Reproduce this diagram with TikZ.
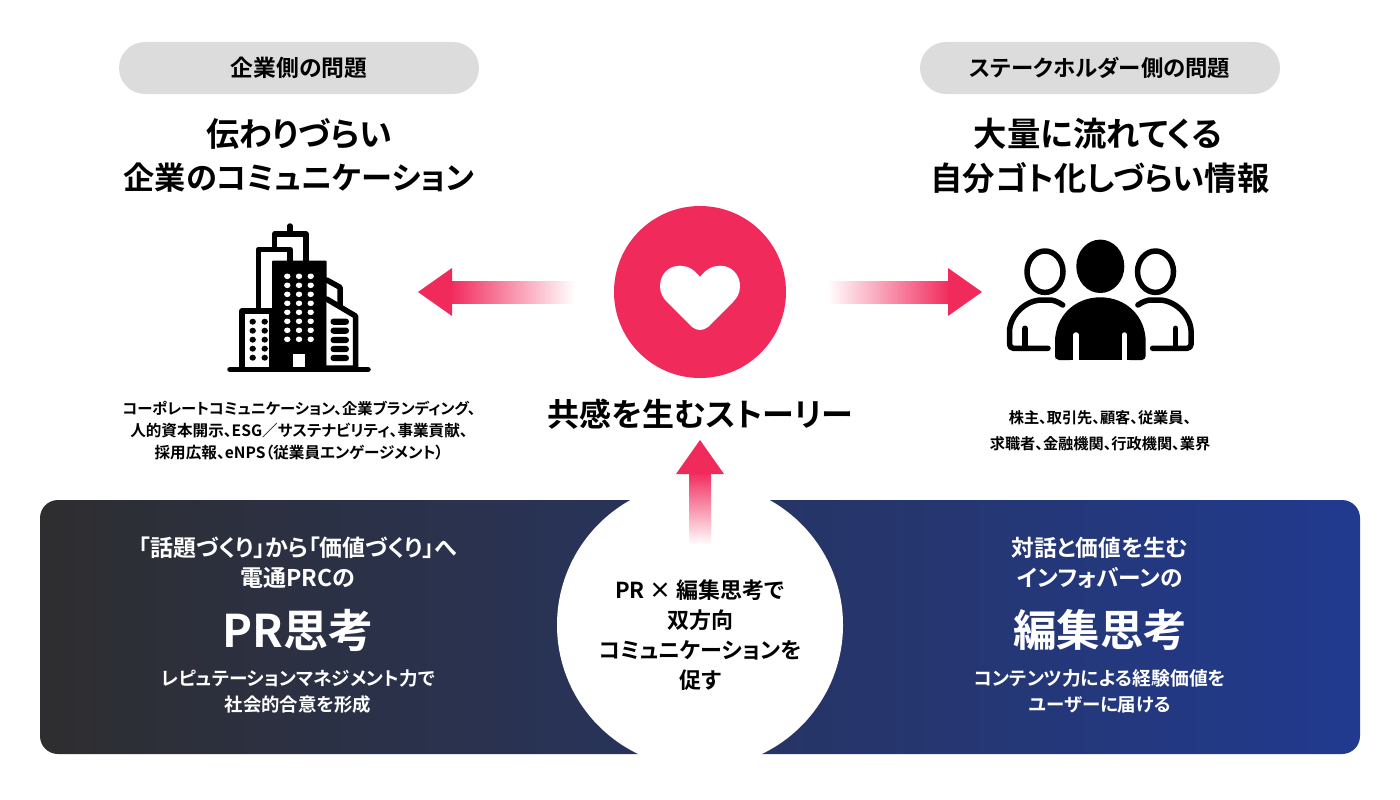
\documentclass[tikz,border=0pt]{standalone}
\usepackage{fontspec}
\setmainfont{Noto Sans CJK JP}[BoldFont=* Bold,RawFeature=+palt]
\definecolor{rose}{HTML}{F12A5C}
\definecolor{pill}{HTML}{DCDCDC}
\definecolor{pnlL}{HTML}{2E2E30}
\definecolor{pnlR}{HTML}{213A8F}
\newcommand{\fs}[1]{\fontsize{#1}{#1}\selectfont}
\tikzset{
  x=1pt,y=-1pt,
  t/.style={inner sep=0pt,font=\bfseries,align=center,text=black},
  tw/.style={t,text=white},
  ln/.style={draw=black,line width=5.5pt,line cap=round,line join=round},
  pillbox/.style={fill=pill,rounded corners=26pt}
}
\begin{document}
\begin{tikzpicture}
\useasboundingbox (0,0) rectangle (1400,800);
% panel
\shade[left color=pnlL,right color=pnlR,rounded corners=18pt] (40,500) rectangle (1360,754);
\fill[white] (700,625) circle[radius=143];
% pills
\fill[pillbox] (119,42) rectangle (479,94);
\fill[pillbox] (920,42) rectangle (1280,94);
\node[t] (p1) at (299,68) {\fs{22.8}企業側の問題};
\node[t] (p2) at (1100,68) {\fs{22.4}ステークホルダー側の問題};
% titles
\node[t] (t1a) at (299,134) {\fs{33}伝わりづらい};
\node[t] (t1b) at (299,178) {\fs{31.2}企業のコミュニケーション};
\node[t] (t2a) at (1098,134) {\fs{33.4}大量に流れてくる};
\node[t] (t2b) at (1100,178) {\fs{32.4}自分ゴト化しづらい情報};
% centre circle + heart
\fill[rose] (700,292) circle[radius=86];
\fill[white] (700,277) .. controls (694,269) and (687,265.7) .. (680,265.7)
  .. controls (668,265.7) and (660,275) .. (660,286)
  .. controls (660,293) and (663,298) .. (667,302)
  -- (692,327) .. controls (697,331) and (703,331) .. (708,327)
  -- (733,302) .. controls (737,298) and (740,293) .. (740,286)
  .. controls (740,275) and (732,265.7) .. (720,265.7)
  .. controls (713,265.7) and (706,269) .. (700,277) -- cycle;
% arrows
\shade[left color=rose,right color=white] (450,281) rectangle (575,303);
\fill[rose] (418,292) -- (452,268) -- (452,316) -- cycle;
\shade[left color=white,right color=rose] (827,281) rectangle (950,303);
\fill[rose] (982,292) -- (948,268) -- (948,316) -- cycle;
\shade[top color=rose,bottom color=white] (689,472) rectangle (711,545);
\fill[rose] (700,440) -- (724,474) -- (676,474) -- cycle;
% building
\draw[ln] (258.7,308) -- (258.7,249.3) -- (290,249.3) -- (290,262);
\draw[ln] (274.7,249) -- (274.7,234) -- (306,234) -- (306,262);
\draw[ln] (290,234) -- (290,226);
\draw[ln] (326.7,280) -- (340,287.3) -- (340,306);
\draw[ln,fill=white] (242,367) -- (242,311) -- (272,311) -- (272,367);
\fill[black,rounded corners=1pt] (272,260.7) rectangle (326.7,370);
\draw[ln,fill=white] (326.7,299) -- (355.5,316) -- (355.5,368) -- (326.7,368);
\draw[ln] (230,369.5) -- (368,369.5);
\fill[white] (293,354) rectangle (305.3,367);
\foreach \r in {0,...,7}\foreach \c in {287.3,299,310.7}
  \fill[white] (\c,276.3+9*\r) ellipse[x radius=3.2,y radius=2.8];
\foreach \r in {0,...,4}\foreach \c in {252.7,264.7}
  \fill[black] (\c,321.7+9*\r) ellipse[x radius=3.2,y radius=3];
\foreach \yy in {321.7,330.7,340,349,358}
  \fill[black,rounded corners=3pt] (330.5,\yy-3.1) rectangle (349,\yy+3.1);
% people
\fill[black] (1100.3,266.3) ellipse[x radius=24,y radius=26.7];
\fill[black] (1055,360) -- (1055,342) .. controls (1055,316) and (1075,297.3) .. (1100.3,297.3)
  .. controls (1126,297.3) and (1145.7,316) .. (1145.7,342) -- (1145.7,356)
  .. controls (1145.7,358) and (1144,360) .. (1142,360) -- (1059,360)
  .. controls (1057,360) and (1055,358) .. (1055,356) -- cycle;
\draw[white,line width=5.5pt,line cap=round] (1076,335) -- (1076,362);
\draw[white,line width=5.5pt,line cap=round] (1124.3,335) -- (1124.3,362);
\fill[white] (1070,360) rectangle (1130,365);
\draw[ln] (1045,271.7) ellipse[x radius=18,y radius=20.7];
\draw[ln] (1155.5,271.7) ellipse[x radius=18,y radius=20.7];
\draw[ln,rounded corners=4pt] (1062.7,305) .. controls (1057,301) and (1052,300) .. (1046,300)
  .. controls (1025,300) and (1009.5,316) .. (1009.5,336) -- (1009.5,348.3) -- (1048,348.3);
\draw[ln] (1025,328.3) -- (1025,347);
\draw[ln,rounded corners=4pt] (1137.9,305) .. controls (1143.6,301) and (1148.6,300) .. (1154.6,300)
  .. controls (1175.6,300) and (1191.1,316) .. (1191.1,336) -- (1191.1,348.3) -- (1152.6,348.3);
\draw[ln] (1175.6,328.3) -- (1175.6,347);
% descriptions
\node[t] (d1) at (299,409) {\fs{15.3}コーポレートコミュニケーション、企業ブランディング、};
\node[t] (d2) at (299,431) {\fs{15.6}人的資本開示、ESG／サステナビリティ、事業貢献、};
\node[t] (d3) at (299,453) {\fs{15.6}採用広報、eNPS（従業員エンゲージメント）};
\node[t] (d4) at (1100,418) {\fs{15.2}株主、取引先、顧客、従業員、};
\node[t] (d5) at (1100,444) {\fs{15.2}求職者、金融機関、行政機関、業界};
\node[t] (c0) at (700,414) {\fs{32}共感を生むストーリー};
% left panel
\node[tw] (l1) at (298,548) {\fs{23}「話題づくり」から「価値づくり」へ};
\node[tw] (l2) at (298,578) {\fs{23}電通PRCの};
\node[tw] (l3) at (298,630) {\fs{45}PR思考};
\node[tw] (l4) at (298,678) {\fs{18.6}レピュテーションマネジメント力で};
\node[tw] (l5) at (298,705) {\fs{18.4}社会的合意を形成};
% right panel
\node[tw] (r1) at (1100,548) {\fs{22.7}対話と価値を生む};
\node[tw] (r2) at (1100,578) {\fs{22.7}インフォバーンの};
\node[tw] (r3) at (1100,630) {\fs{43.5}編集思考};
\node[tw] (r4) at (1100,678) {\fs{18.8}コンテンツ力による経験価値を};
\node[tw] (r5) at (1100,705) {\fs{18.4}ユーザーに届ける};
% centre
\node[t] (m1) at (700,590) {\fs{22}PR × 編集思考で};
\node[t] (m2) at (700,620) {\fs{22}双方向};
\node[t] (m3) at (700,650) {\fs{22}コミュニケーションを};
\node[t] (m4) at (700,680) {\fs{22}促す};
\end{tikzpicture}
\end{document}
